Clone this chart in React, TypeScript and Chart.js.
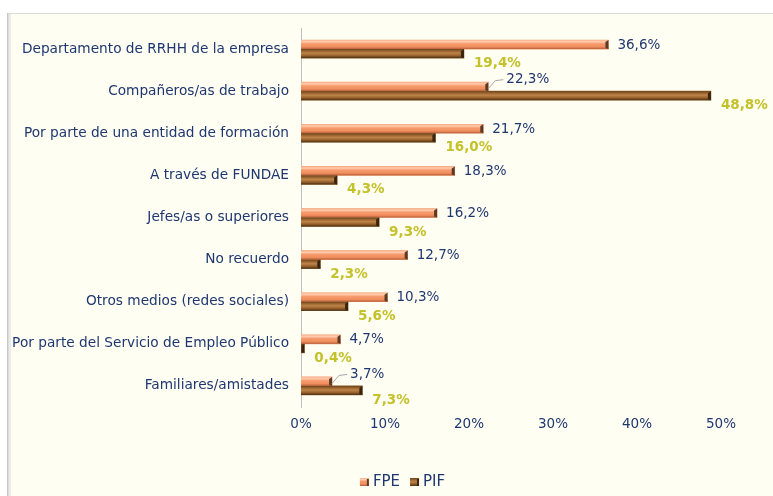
import { useEffect, useRef } from "react";
import { Chart, registerables } from "chart.js";

Chart.register(...registerables);

const categories = [
  "Departamento de RRHH de la empresa",
  "Compañeros/as de trabajo",
  "Por parte de una entidad de formación",
  "A través de FUNDAE",
  "Jefes/as o superiores",
  "No recuerdo",
  "Otros medios (redes sociales)",
  "Por parte del Servicio de Empleo Público",
  "Familiares/amistades",
];
const fpeValues = [36.6, 22.3, 21.7, 18.3, 16.2, 12.7, 10.3, 4.7, 3.7];
const pifValues = [19.4, 48.8, 16.0, 4.3, 9.3, 2.3, 5.6, 0.4, 7.3];
const seriesNames = ["FPE", "PIF"];
const xTickValues = [0, 10, 20, 30, 40, 50];
const leaderLabelIndexes = [1, 8];

const FONT = "'DejaVu Sans', Verdana, sans-serif";
const BLUE = "#1E3770";
const YELLOW = "#C4C12A";

const fmt = (v: number) => v.toFixed(1).replace(".", ",") + "%";

function barGradient(ctx: CanvasRenderingContext2D, top: number, bottom: number, ds: number) {
  const g = ctx.createLinearGradient(0, top, 0, bottom);
  if (ds === 0) {
    g.addColorStop(0, "#F8B08A");
    g.addColorStop(0.2, "#FFCDB0");
    g.addColorStop(0.4, "#F79C6E");
    g.addColorStop(0.75, "#F08E5E");
    g.addColorStop(1, "#B45E36");
  } else {
    g.addColorStop(0, "#6A421C");
    g.addColorStop(0.22, "#9A642E");
    g.addColorStop(0.45, "#BE8449");
    g.addColorStop(0.72, "#9A642E");
    g.addColorStop(1, "#4C2F13");
  }
  return g;
}

const backgroundPlugin = {
  id: "panelBg",
  beforeDraw(chart: any) {
    const { ctx, width, height } = chart;
    ctx.save();
    ctx.fillStyle = "#FFFFFF";
    ctx.fillRect(0, 0, width, height);
    ctx.fillStyle = "#FFFEF3";
    ctx.fillRect(8, 13, width - 8, height - 13);
    ctx.fillStyle = "#DADADA";
    ctx.fillRect(7, 13, width - 7, 1);
    ctx.fillStyle = "#C8C8C8";
    ctx.fillRect(7, 13, 1, height - 13);
    ctx.fillStyle = "#DCDCDC";
    ctx.fillRect(8, 14, 1, height - 14);
    ctx.fillStyle = "#ECECE6";
    ctx.fillRect(9, 14, 2, height - 14);
    ctx.restore();
  },
};

const barStylePlugin = {
  id: "barStyle",
  afterDatasetsDraw(chart: any) {
    const { ctx } = chart;
    ctx.save();
    chart.data.datasets.forEach((_d: any, di: number) => {
      const meta = chart.getDatasetMeta(di);
      meta.data.forEach((bar: any) => {
        const left = Math.min(bar.base, bar.x);
        const right = Math.max(bar.base, bar.x);
        const top = bar.y - bar.height / 2;
        const bottom = bar.y + bar.height / 2;
        const w = right - left;
        if (w <= 0) return;
        ctx.fillStyle = barGradient(ctx, top, bottom, di);
        ctx.fillRect(left, top, w, bottom - top);
        const cap = Math.min(3, w);
        ctx.fillStyle = di === 0 ? "#5A3A24" : "#3A2410";
        ctx.beginPath();
        ctx.moveTo(right - cap, top + 2);
        ctx.lineTo(right, top);
        ctx.lineTo(right, bottom);
        ctx.lineTo(right - cap, bottom - 1);
        ctx.closePath();
        ctx.fill();
      });
    });
    ctx.restore();
  },
};

const labelPlugin = {
  id: "valueLabels",
  afterDatasetsDraw(chart: any) {
    const { ctx } = chart;
    ctx.save();
    ctx.textAlign = "left";
    ctx.textBaseline = "middle";
    const fpeMeta = chart.getDatasetMeta(0);
    fpeMeta.data.forEach((bar: any, i: number) => {
      const v = fpeValues[i];
      ctx.font = `13.5px ${FONT}`;
      ctx.fillStyle = BLUE;
      if (leaderLabelIndexes.includes(i)) {
        ctx.strokeStyle = "#A6A6A6";
        ctx.lineWidth = 1;
        ctx.beginPath();
        ctx.moveTo(bar.x, bar.y + 2);
        ctx.lineTo(bar.x + 7, bar.y - 6);
        ctx.lineTo(bar.x + 15, bar.y - 7);
        ctx.stroke();
        ctx.fillText(fmt(v), bar.x + 18, bar.y - 7);
      } else {
        ctx.fillText(fmt(v), bar.x + 9, bar.y + 0.5);
      }
    });
    const pifMeta = chart.getDatasetMeta(1);
    pifMeta.data.forEach((bar: any, i: number) => {
      ctx.font = `bold 13.5px ${FONT}`;
      ctx.fillStyle = YELLOW;
      ctx.fillText(fmt(pifValues[i]), bar.x + 10, bar.y + 10);
    });
    ctx.restore();
  },
};

const legendPlugin = {
  id: "customLegend",
  afterDraw(chart: any) {
    const { ctx } = chart;
    ctx.save();
    ctx.font = `15px ${FONT}`;
    ctx.textBaseline = "middle";
    ctx.textAlign = "left";
    const cy = 482;
    const markerW = 9;
    const markerH = 8;
    const gapText = 4;
    const gapItem = 10;
    const widths = seriesNames.map((n) => markerW + gapText + ctx.measureText(n).width);
    const total = widths.reduce((a, b) => a + b, 0) + gapItem * (seriesNames.length - 1);
    let x = chart.width / 2 + 16 - total / 2;
    seriesNames.forEach((n, i) => {
      const top = cy - markerH / 2;
      ctx.fillStyle = barGradient(ctx, top, top + markerH, i);
      ctx.fillRect(x, top, markerW, markerH);
      ctx.fillStyle = i === 0 ? "#5A3A24" : "#3A2410";
      ctx.fillRect(x + markerW - 2, top + 1, 2, markerH - 1);
      ctx.fillStyle = BLUE;
      ctx.fillText(n, x + markerW + gapText, cy);
      x += widths[i] + gapItem;
    });
    ctx.restore();
  },
};

export default function App() {
  const canvasRef = useRef<HTMLCanvasElement | null>(null);

  useEffect(() => {
    if (!canvasRef.current) return;
    const chart = new Chart(canvasRef.current, {
      type: "bar",
      data: {
        labels: categories,
        datasets: [
          {
            label: seriesNames[0],
            data: fpeValues,
            backgroundColor: "#F4A27A",
            barThickness: 9,
          },
          {
            label: seriesNames[1],
            data: pifValues,
            backgroundColor: "#93602E",
            barThickness: 9,
          },
        ],
      },
      options: {
        indexAxis: "y",
        responsive: false,
        maintainAspectRatio: false,
        animation: false,
        devicePixelRatio: 1,
        layout: { padding: { top: 28, right: 52, bottom: 59, left: 0 } },
        plugins: {
          legend: { display: false },
          tooltip: { enabled: false },
        },
        scales: {
          x: {
            min: 0,
            max: 50,
            afterBuildTicks: (scale: any) => {
              scale.ticks = xTickValues.map((v) => ({ value: v }));
            },
            afterFit: (scale: any) => {
              scale.height = 30;
            },
            grid: { display: false, drawTicks: false },
            border: { display: false },
            ticks: {
              padding: 9,
              color: BLUE,
              font: { family: FONT, size: 13.5 },
              callback: (v: any) => v + "%",
            },
          },
          y: {
            afterFit: (scale: any) => {
              scale.width = 301;
            },
            grid: { display: false, drawTicks: false },
            border: { display: true, color: "#BFBFBF", width: 1 },
            ticks: {
              padding: 12,
              color: BLUE,
              font: { family: FONT, size: 13.7 },
            },
          },
        },
      },
      plugins: [backgroundPlugin, barStylePlugin, labelPlugin, legendPlugin],
    } as any);
    return () => chart.destroy();
  }, []);

  return (
    <div style={{ position: "fixed", left: 0, top: 0, width: 773, height: 496 }}>
      <canvas ref={canvasRef} width={773} height={496} style={{ display: "block" }} />
    </div>
  );
}
